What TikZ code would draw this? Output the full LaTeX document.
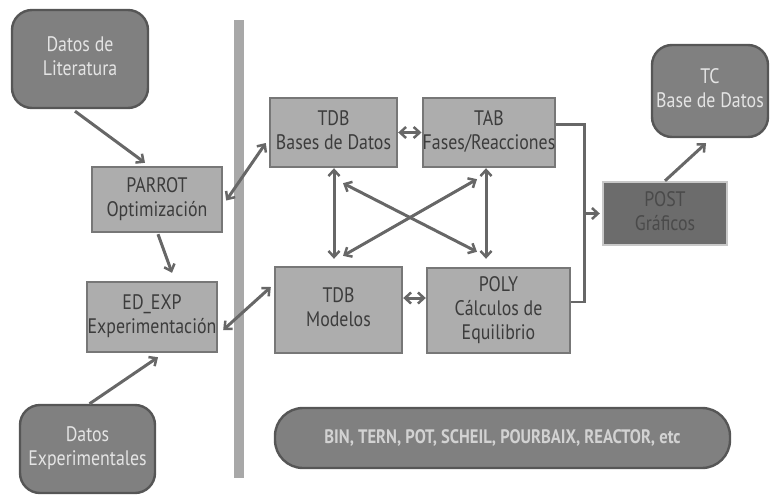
\documentclass[tikz,border=0pt]{standalone}
\usepackage{fontspec}
\setmainfont{PT Sans}
\usepackage{graphicx}
\usetikzlibrary{arrows.meta,calc}
\definecolor{darkfill}{HTML}{808080}
\definecolor{darkline}{HTML}{565656}
\definecolor{lightfill}{HTML}{ADADAD}
\definecolor{lightline}{HTML}{777777}
\definecolor{lighttext}{HTML}{E4E4E4}
\definecolor{boxtext}{HTML}{3C3C3C}
\definecolor{postfill}{HTML}{6C6C6C}
\definecolor{postline}{HTML}{C8C8C8}
\definecolor{posttext}{HTML}{4A4A4A}
\definecolor{arrowcol}{HTML}{676767}
\definecolor{barcol}{HTML}{A8A8A8}
\newcommand{\sq}[1]{\scalebox{0.85}[1]{\begin{tabular}{@{}c@{}}#1\end{tabular}}}
\tikzset{
  base/.style={draw, line width=2.4pt, inner sep=0pt, font=\fontsize{21}{24}\selectfont},
  roundbox/.style={base, fill=darkfill, draw=darkline, text=lighttext, rounded corners=20pt},
  sqbox/.style={base, fill=lightfill, draw=lightline, text=boxtext},
  postbox/.style={base, fill=postfill, draw=postline, text=posttext},
  conn/.style={draw=arrowcol, line width=3pt, -{Straight Barb[length=6pt,width=11pt,line width=2.5pt]}},
  dconn/.style={conn, {Straight Barb[length=6pt,width=11pt,line width=2.5pt]}-{Straight Barb[length=6pt,width=11pt,line width=2.5pt]}},
  plain/.style={draw=arrowcol, line width=2.4pt}
}
\begin{document}
\begin{tikzpicture}[x=1pt,y=-1pt]
\useasboundingbox (0,0) rectangle (770,495);
% separator bar
\fill[barcol] (234,20) rectangle (244,478);
% nodes
\node[roundbox, minimum width=136pt, minimum height=98pt] (lit) at (80,59) {\sq{Datos de\\Literatura}};
\node[sqbox, minimum width=130pt, minimum height=65pt] (parrot) at (157,199.5) {\sq{PARROT\\Optimización}};
\node[sqbox, minimum width=130pt, minimum height=70pt] (edexp) at (152,317) {\sq{ED\_EXP\\Experimentación}};
\node[roundbox, minimum width=135pt, minimum height=88pt] (exp) at (87.5,449) {\sq{Datos\\Experimentales}};
\node[sqbox, minimum width=127pt, minimum height=69pt] (tdb1) at (333.5,132.5) {\sq{TDB\\Bases de Datos}};
\node[sqbox, minimum width=132pt, minimum height=69pt] (tab) at (489,132.5) {\sq{TAB\\Fases/Reacciones}};
\node[sqbox, minimum width=127pt, minimum height=86pt] (tdb2) at (338.5,310) {\sq{TDB\\Modelos}};
\node[sqbox, minimum width=143pt, minimum height=85pt] (poly) at (498.5,310.5) {\sq{POLY\\Cálculos de\\Equilibrio}};
\node[postbox, minimum width=124pt, minimum height=63pt] (post) at (665,213.5) {\sq{POST\\Gráficos}};
\node[roundbox, minimum width=116pt, minimum height=92pt] (tc) at (710,91) {\sq{TC\\Base de Datos}};
\node[roundbox, rounded corners=28pt, minimum width=455pt, minimum height=60pt, text=lighttext!92!black, font=\fontsize{19.5}{22}\selectfont\bfseries] (tools) at (502.5,438) {\scalebox{0.85}[1]{BIN, TERN, POT, SCHEIL, POURBAIX, REACTOR, etc}};
% connectors, left side
\draw[conn] ($(lit.south)+(-5,2)$) -- ($(parrot.north)+(-12,-3)$);
\draw[conn] ($(parrot.south)+(1,1)$) -- ($(edexp.north)+(20,-8)$);
\draw[conn] ($(exp.north)+(2,0)$) -- ($(edexp.south)+(6,4)$);
\draw[dconn] ($(parrot.east)+(3,1)$) -- ($(tdb1.west)+(-3,10.5)$);
\draw[dconn] ($(edexp.east)+(5,13)$) -- ($(tdb2.west)+(-3,-23)$);
% central block
\draw[dconn] (tdb1.east) -- (tab.west);
\draw[dconn] ($(tdb2.east)+(0,-12)$) -- ($(poly.west)+(0,-12.5)$);
\draw[dconn] ($(tdb1.south)+(0.5,0)$) -- ($(tdb2.north)+(-4.5,-7)$);
\draw[dconn] ($(tab.south)+(-3,0)$) -- ($(poly.north)+(-12.5,-8)$);
\draw[dconn] ($(tdb1.south)+(9.5,15)$) -- ($(poly.north)+(-21.5,-15)$);
\draw[dconn] ($(tab.south)+(-12,11)$) -- ($(tdb2.north)+(4.5,-10)$);
% bracket to POST
\draw[plain] ($(tab.east)+(0,-8)$) -- ++(28,0) coordinate (bk) |- ($(poly.east)+(0,-8.5)$);
\draw[conn] (bk |- post.west) -- ($(post.west)+(-2,0)$);
\draw[conn] (post.north) -- ($(tc.south)+(-4,5)$);
\end{tikzpicture}
\end{document}
